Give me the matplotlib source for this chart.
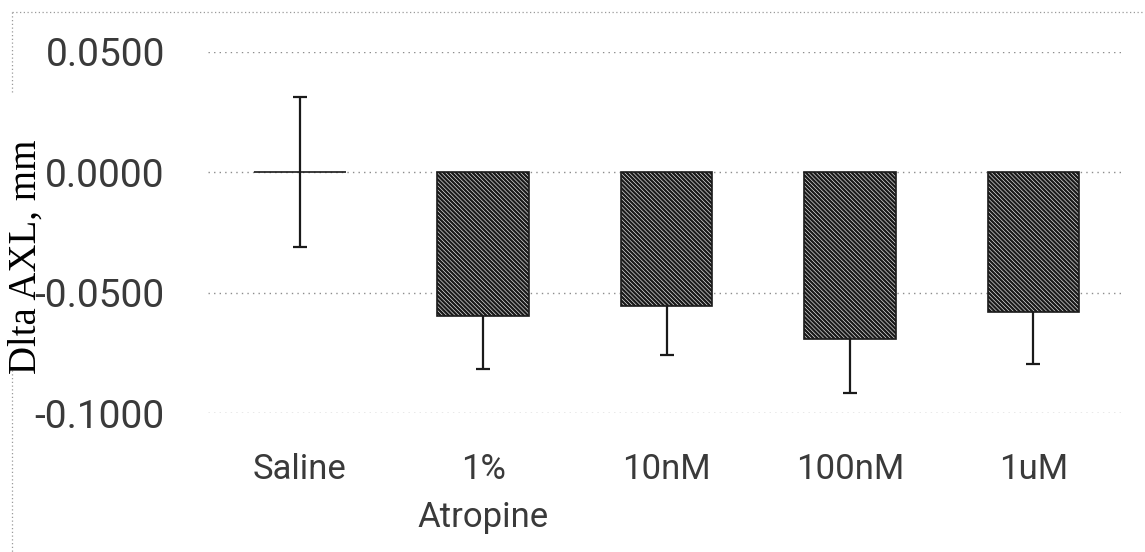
import matplotlib
matplotlib.use("Agg")
import matplotlib.pyplot as plt
from matplotlib.lines import Line2D
from matplotlib.ticker import FuncFormatter

# values (Delta axial length, mm)
groups = ["Saline", "1%\nAtropine", "10nM", "100nM", "1uM"]
delta_axl = [0.0, -0.0598, -0.0555, -0.0692, -0.0580]
sem = [0.0312, 0.0220, 0.0203, 0.0225, 0.0217]
y_ticks = [-0.1, -0.05, 0.0, 0.05]

plt.rcParams["hatch.linewidth"] = 1.7

fig = plt.figure(figsize=(11.45, 5.52), dpi=100)
ax = fig.add_axes([0.1817, 0.2518, 0.8009, 0.654])

x = list(range(len(groups)))
ax.errorbar(x, delta_axl, yerr=sem, fmt="none", ecolor="#1a1a1a",
            elinewidth=1.6, capsize=5, capthick=1.6, zorder=2)
ax.bar(x, delta_axl, width=0.5, facecolor="white", edgecolor="#1a1a1a",
       hatch="\\" * 8, linewidth=1.2, zorder=3)

ax.set_xlim(-0.5, len(groups) - 0.5)
ax.set_ylim(-0.1, 0.05)
ax.set_yticks(y_ticks)
ax.yaxis.set_major_formatter(FuncFormatter(lambda v, _: f"{v:.4f}" if abs(v) > 1e-9 else "0.0000"))
ax.set_xticks(x)
ax.set_xticklabels(groups, linespacing=1.55)

for s in ax.spines.values():
    s.set_visible(False)
ax.tick_params(axis="both", length=0)
ax.tick_params(axis="y", pad=31, labelsize=28, labelcolor="#3a3a3a")
ax.tick_params(axis="x", pad=29, labelsize=25, labelcolor="#3a3a3a")
for lab in ax.get_xticklabels() + ax.get_yticklabels():
    lab.set_family(["Roboto", "DejaVu Sans"])
ax.yaxis.grid(True, ls=(0, (1, 3)), color="#8c8c8c", lw=1.0)
ax.set_axisbelow(True)

# chart-area border (dotted, top and left only visible)
fig.add_artist(Line2D([12 / 1145, 1], [1 - 12 / 552] * 2, ls=(0, (1, 2)),
                      color="#9a9a9a", lw=0.9))
fig.add_artist(Line2D([12 / 1145] * 2, [1 - 12 / 552, 1 - 92 / 552],
                      ls=(0, (1, 2)), color="#9a9a9a", lw=0.9))
fig.add_artist(Line2D([12 / 1145] * 2, [1 - 370 / 552, 0], ls=(0, (1, 2)),
                      color="#9a9a9a", lw=0.9))

fig.text(26 / 1145, 1 - 257 / 552, "Dlta AXL, mm", rotation=90,
         ha="center", va="center", fontsize=28,
         family=["Liberation Serif", "DejaVu Serif"], color="black")

fig.savefig("out.png", dpi=100)
